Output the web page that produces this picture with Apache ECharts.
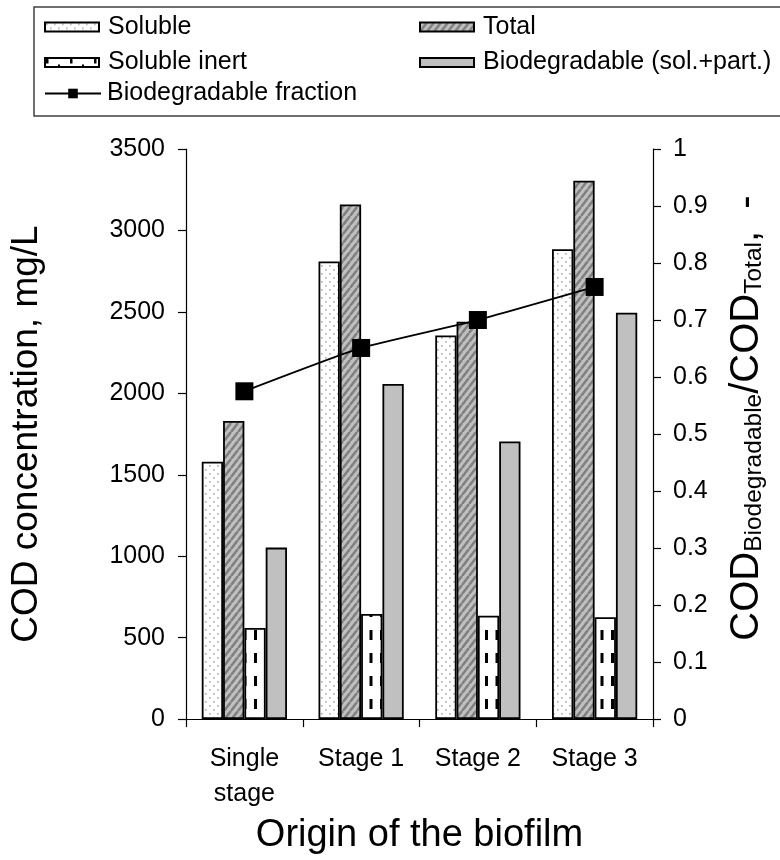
<!DOCTYPE html>
<html>
<head>
<meta charset="utf-8">
<script src="https://cdn.jsdelivr.net/npm/echarts@6/dist/echarts.min.js"></script>
<style>
html,body{margin:0;padding:0;background:#fff;}
#chart{width:780px;height:860px;}
</style>
</head>
<body>
<div id="chart"></div>
<script>
// ---- data ----
const categories = ['Single\nstage', 'Stage 1', 'Stage 2', 'Stage 3'];
const soluble = [1580, 2810, 2355, 2885];
const total = [1830, 3160, 2440, 3305];
const solubleInert = [560, 645, 635, 625];
const biodegradable = [1053, 2058, 1705, 2495];
const biodegradableFraction = [0.575, 0.651, 0.700, 0.758];
const leftAxisRange = [0, 3500, 500];
const rightAxisRange = [0, 1, 0.1];

const FONT = "'Liberation Sans', Arial, sans-serif";

function makeCanvas(w, h, draw) {
  const c = document.createElement('canvas');
  c.width = w; c.height = h;
  draw(c.getContext('2d'));
  return c;
}
const dotPattern = makeCanvas(8, 8, ctx => {
  ctx.fillStyle = '#fff'; ctx.fillRect(0, 0, 8, 8);
  ctx.fillStyle = '#b4b4b4';
  ctx.fillRect(1, 1, 1.7, 1.7);
  ctx.fillRect(5, 5, 1.7, 1.7);
});
const hatchPattern = makeCanvas(7, 9, ctx => {
  ctx.fillStyle = '#c0c0c0'; ctx.fillRect(0, 0, 7, 9);
  ctx.strokeStyle = '#808080'; ctx.lineWidth = 2.6;
  for (const k of [-7, 0, 7]) {
    ctx.beginPath(); ctx.moveTo(k, 9); ctx.lineTo(k + 7, 0); ctx.stroke();
  }
});
const dashPattern = makeCanvas(21, 23, ctx => {
  ctx.fillStyle = '#fff'; ctx.fillRect(0, 0, 21, 23);
  ctx.fillStyle = '#000';
  ctx.fillRect(2, 9, 3, 10);
  ctx.fillRect(12.5, 9, 3, 10);
});
const dashLegendPattern = makeCanvas(24, 9, ctx => {
  ctx.fillStyle = '#fff'; ctx.fillRect(0, 0, 24, 9);
  ctx.fillStyle = '#000';
  ctx.fillRect(1, 0, 2.5, 5.5);
  ctx.fillRect(13, 6.5, 2, 2.5);
});

const border = { borderColor: '#000', borderWidth: 1.8 };

function legendAt(item, left, cy, extra) {
  return Object.assign({
    data: [item], left: left, top: cy - 12.5, padding: 0,
    orient: 'horizontal', itemWidth: 54, itemHeight: 9, icon: 'rect',
    selectedMode: false,
    textStyle: { fontFamily: FONT, fontSize: 25, color: '#000', lineHeight: 25, padding: [0, 0, 0, 4] }
  }, extra || {});
}

const chart = echarts.init(document.getElementById('chart'), null, { renderer: 'canvas' });
chart.setOption({
  animation: false,
  backgroundColor: '#fff',
  graphic: [{
    type: 'rect', shape: { x: 34, y: 7, width: 760, height: 109 },
    style: { fill: 'none', stroke: '#404040', lineWidth: 1.5 }, silent: true
  }],
  legend: [
    legendAt('Soluble', 44, 27),
    legendAt('Total', 419, 27),
    legendAt({ name: 'Soluble inert', itemStyle: { color: { image: dashLegendPattern, repeat: 'repeat' } } }, 44, 62.5),
    legendAt('Biodegradable (sol.+part.)', 419, 62.5),
    legendAt('Biodegradable fraction', 44, 93.5, {
      itemWidth: 56, itemHeight: 12, icon: null,
      textStyle: { fontFamily: FONT, fontSize: 25, color: '#000', lineHeight: 25, padding: [0, 0, 0, 1] }
    })
  ],
  grid: { left: 186, right: 127, top: 149, bottom: 127 },
  xAxis: {
    type: 'category', data: categories,
    axisLine: { lineStyle: { color: '#000', width: 1.2 } },
    axisTick: { show: true, length: 8, lineStyle: { color: '#000', width: 1.2 } },
    axisLabel: { fontFamily: FONT, fontSize: 25, color: '#000', margin: 23, lineHeight: 35, interval: 0 },
    name: 'Origin of the biofilm', nameLocation: 'middle', nameGap: 89,
    nameTextStyle: { fontFamily: FONT, fontSize: 38, color: '#000', lineHeight: 38 }
  },
  yAxis: [{
    type: 'value', min: leftAxisRange[0], max: leftAxisRange[1], interval: leftAxisRange[2],
    position: 'left',
    axisLine: { show: true, lineStyle: { color: '#000', width: 1.2 } },
    axisTick: { show: true, length: 8, lineStyle: { color: '#000', width: 1.2 } },
    splitLine: { show: false },
    axisLabel: { fontFamily: FONT, fontSize: 25, color: '#000', margin: 21, formatter: v => String(v) },
    name: 'COD concentration, mg/L', nameLocation: 'middle', nameGap: 140, nameRotate: 90,
    nameTextStyle: { fontFamily: FONT, fontSize: 37, color: '#000', lineHeight: 38 }
  }, {
    type: 'value', min: rightAxisRange[0], max: rightAxisRange[1], interval: rightAxisRange[2],
    position: 'right',
    axisLine: { show: true, lineStyle: { color: '#000', width: 1.2 } },
    axisTick: { show: true, length: 8, lineStyle: { color: '#000', width: 1.2 } },
    splitLine: { show: false },
    axisLabel: {
      fontFamily: FONT, fontSize: 25, color: '#000', margin: 20,
      formatter: v => (Math.abs(v) < 1e-9 ? '0' : Math.abs(v - 1) < 1e-9 ? '1' : v.toFixed(1))
    },
    name: '{a|COD}{b|Biodegradable}{a|/COD}{b|Total}{a|,  -}',
    nameLocation: 'middle', nameGap: 70, nameRotate: 90,
    nameTextStyle: {
      fontFamily: FONT, color: '#000', padding: [0, 0, 0, 32],
      rich: {
        a: { fontFamily: FONT, fontSize: 40, color: '#000', lineHeight: 44, verticalAlign: 'bottom' },
        b: { fontFamily: FONT, fontSize: 24.5, color: '#000', lineHeight: 29, verticalAlign: 'bottom' }
      }
    }
  }],
  series: [
    { name: 'Soluble', type: 'bar', data: soluble, barGap: '0%', barCategoryGap: '27%',
      itemStyle: Object.assign({ color: { image: dotPattern, repeat: 'repeat' } }, border) },
    { name: 'Total', type: 'bar', data: total, barGap: '0%', barCategoryGap: '27%',
      itemStyle: Object.assign({ color: { image: hatchPattern, repeat: 'repeat' } }, border) },
    { name: 'Soluble inert', type: 'bar', data: solubleInert, barGap: '0%', barCategoryGap: '27%',
      itemStyle: Object.assign({ color: { image: dashPattern, repeat: 'repeat' } }, border) },
    { name: 'Biodegradable (sol.+part.)', type: 'bar', data: biodegradable, barGap: '0%', barCategoryGap: '27%',
      itemStyle: Object.assign({ color: '#c0c0c0' }, border) },
    { name: 'Biodegradable fraction', type: 'line', yAxisIndex: 1, data: biodegradableFraction,
      smooth: 0.15, symbol: 'rect', symbolSize: 18, z: 5,
      lineStyle: { color: '#000', width: 1.8 },
      itemStyle: { color: '#000', borderWidth: 0 } }
  ]
});
</script>
</body>
</html>
